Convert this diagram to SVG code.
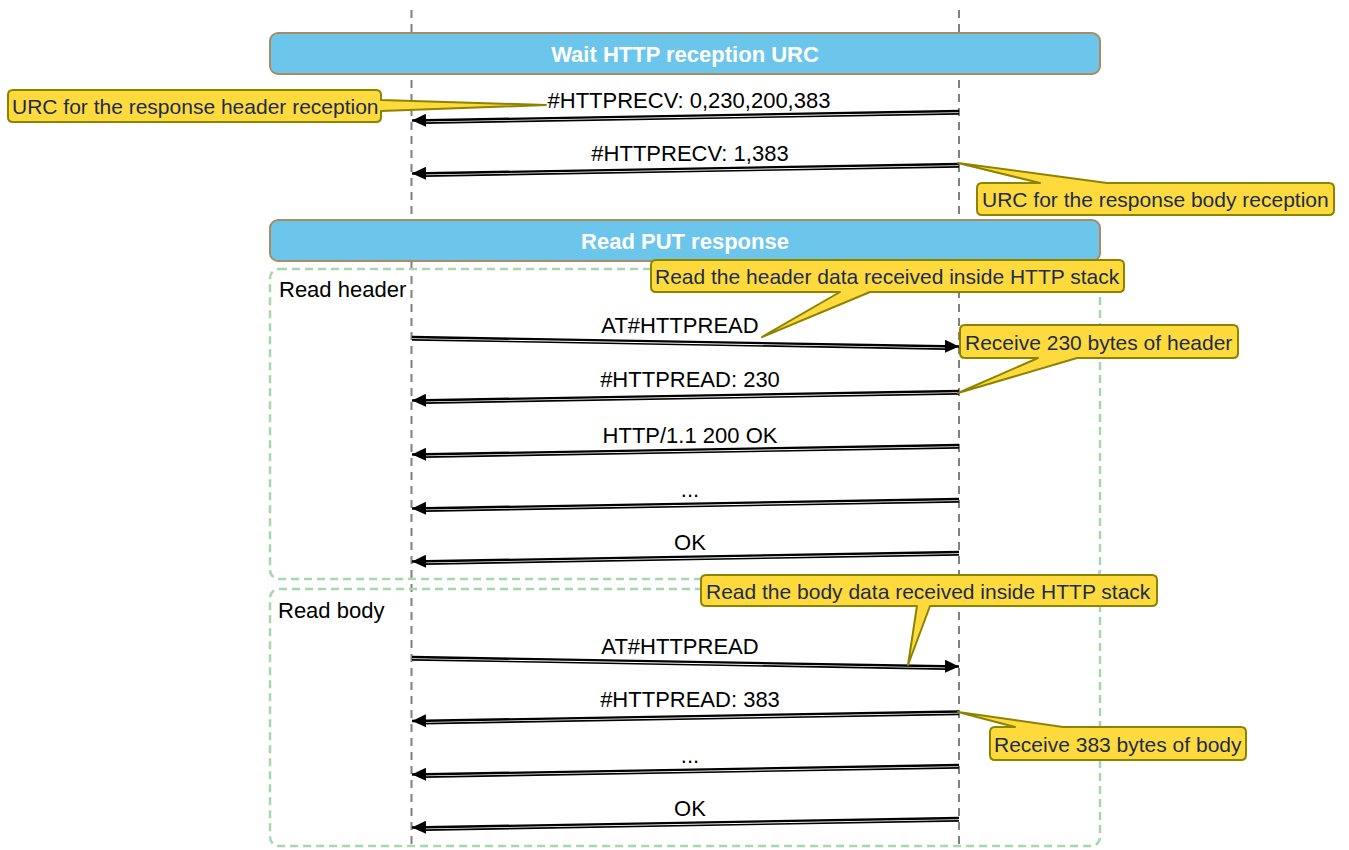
<svg xmlns="http://www.w3.org/2000/svg" width="1349" height="850" viewBox="0 0 1349 850">
  <defs>
    <style>
      .lifeline { stroke: #808080; stroke-width: 2; stroke-dasharray: 8 6; fill: none; }
      .phase { fill: #6cc6ec; stroke: #aa8c62; stroke-width: 2; }
      .phase-label { font-family: "Liberation Sans", Arial, sans-serif; font-size: 22px; font-weight: bold; fill: #ffffff; text-anchor: middle; }
      .frame { fill: none; stroke: #a6d8ae; stroke-width: 2.5; stroke-dasharray: 8 5; }
      .frame-label { font-family: "Liberation Sans", Arial, sans-serif; font-size: 22px; fill: #000000; }
      .msg path.a { stroke: #000; stroke-width: 2.4; fill: none; }
      .msg path.b { stroke: #000; stroke-width: 1.7; fill: none; }
      .msg-label { font-family: "Liberation Sans", Arial, sans-serif; font-size: 22px; fill: #000000; text-anchor: middle; }
      .note path { fill: #ffda3c; stroke: #8c8300; stroke-width: 2; stroke-linejoin: round; }
      .note text { font-family: "Liberation Sans", Arial, sans-serif; font-size: 21px; fill: #1b2c4e; }
    </style>
    <marker id="arrow" viewBox="0 0 14 13" refX="14" refY="6.5" markerWidth="14" markerHeight="13" markerUnits="userSpaceOnUse" orient="auto">
      <path d="M0,0 L14,6.5 L0,13 z" fill="#000"/>
    </marker>
  </defs>

  <rect x="0" y="0" width="1349" height="850" fill="#ffffff"/>

  <!-- lifelines -->
  <g id="lifelines">
    <line class="lifeline" x1="411.5" y1="10" x2="411.5" y2="850"/>
    <line class="lifeline" x1="959" y1="10" x2="959" y2="850"/>
  </g>

  <!-- phase banners -->
  <g id="phase-wait">
    <rect class="phase" x="270" y="33" width="830" height="41" rx="8"/>
    <text class="phase-label" x="685" y="61.5">Wait HTTP reception URC</text>
  </g>
  <g id="phase-read">
    <rect class="phase" x="270" y="220" width="830" height="41" rx="8"/>
    <text class="phase-label" x="685" y="248.5">Read PUT response</text>
  </g>

  <!-- fragments -->
  <g id="frame-header">
    <rect class="frame" x="270" y="269" width="830" height="310" rx="9"/>
    <text class="frame-label" x="279" y="297">Read header</text>
  </g>
  <g id="frame-body">
    <rect class="frame" x="270" y="589" width="830" height="257" rx="9"/>
    <text class="frame-label" x="278" y="618">Read body</text>
  </g>

  <!-- messages -->
  <g id="connectors">
    <g class="msg" id="m1">
      <path class="a" d="M959,111 L412,120.5" marker-end="url(#arrow)"/>
      <path class="b" d="M959,113.8 L424,123.2"/>
      <text class="msg-label" x="689" y="108">#HTTPRECV: 0,230,200,383</text>
    </g>
    <g class="msg" id="m2">
      <path class="a" d="M959,164 L412,173.5" marker-end="url(#arrow)"/>
      <path class="b" d="M959,166.8 L424,176.2"/>
      <text class="msg-label" x="690" y="161">#HTTPRECV: 1,383</text>
    </g>
    <g class="msg" id="m3">
      <path class="a" d="M412,337 L959,346.5" marker-end="url(#arrow)"/>
      <path class="b" d="M412,339.8 L947,349.2"/>
      <text class="msg-label" x="680" y="333">AT#HTTPREAD</text>
    </g>
    <g class="msg" id="m4">
      <path class="a" d="M959,391 L412,400.5" marker-end="url(#arrow)"/>
      <path class="b" d="M959,393.8 L424,403.2"/>
      <text class="msg-label" x="690" y="387">#HTTPREAD: 230</text>
    </g>
    <g class="msg" id="m5">
      <path class="a" d="M959,445 L412,454.5" marker-end="url(#arrow)"/>
      <path class="b" d="M959,447.8 L424,457.2"/>
      <text class="msg-label" x="690" y="443">HTTP/1.1 200 OK</text>
    </g>
    <g class="msg" id="m6">
      <path class="a" d="M959,499 L412,508.5" marker-end="url(#arrow)"/>
      <path class="b" d="M959,501.8 L424,511.2"/>
      <text class="msg-label" x="690" y="497">...</text>
    </g>
    <g class="msg" id="m7">
      <path class="a" d="M959,552 L412,561.5" marker-end="url(#arrow)"/>
      <path class="b" d="M959,554.8 L424,564.2"/>
      <text class="msg-label" x="690" y="550">OK</text>
    </g>
    <g class="msg" id="m8">
      <path class="a" d="M412,657 L959,666.5" marker-end="url(#arrow)"/>
      <path class="b" d="M412,659.8 L947,669.2"/>
      <text class="msg-label" x="680" y="654">AT#HTTPREAD</text>
    </g>
    <g class="msg" id="m9">
      <path class="a" d="M959,711.5 L412,721" marker-end="url(#arrow)"/>
      <path class="b" d="M959,714.3 L424,723.7"/>
      <text class="msg-label" x="690" y="707">#HTTPREAD: 383</text>
    </g>
    <g class="msg" id="m10">
      <path class="a" d="M959,765 L412,774.5" marker-end="url(#arrow)"/>
      <path class="b" d="M959,767.8 L424,777.2"/>
      <text class="msg-label" x="690" y="763">...</text>
    </g>
    <g class="msg" id="m11">
      <path class="a" d="M959,818 L412,827.5" marker-end="url(#arrow)"/>
      <path class="b" d="M959,820.8 L424,830.2"/>
      <text class="msg-label" x="690" y="816">OK</text>
    </g>
  </g>

  <!-- callout notes -->
  <g class="note" id="note-header-urc">
    <path d="M13,90 H376 Q381,90 381,95 V100 L546,105 L381,111 V117 Q381,122 376,122 H13 Q8,122 8,117 V95 Q8,90 13,90 Z"/>
    <text x="12" y="113.5">URC for the response header reception</text>
  </g>
  <g class="note" id="note-body-urc">
    <path d="M982,183 H1040 L958,163 L1107,183 H1329 Q1334,183 1334,188 V210 Q1334,215 1329,215 H982 Q977,215 977,210 V188 Q977,183 982,183 Z"/>
    <text x="982" y="206.5">URC for the response body reception</text>
  </g>
  <g class="note" id="note-read-header">
    <path d="M656,260 H1119 Q1124,260 1124,265 V287 Q1124,292 1119,292 H870 L762,337 L840,292 H656 Q651,292 651,287 V265 Q651,260 656,260 Z"/>
    <text x="655" y="283.5">Read the header data received inside HTTP stack</text>
  </g>
  <g class="note" id="note-230">
    <path d="M965,325 H1233 Q1238,325 1238,330 V353 Q1238,358 1233,358 H1077 L958,393 L1038,358 H965 Q960,358 960,353 V330 Q960,325 965,325 Z"/>
    <text x="965" y="349.5">Receive 230 bytes of header</text>
  </g>
  <g class="note" id="note-read-body">
    <path d="M706,575 H1152 Q1157,575 1157,580 V601 Q1157,606 1152,606 H930 L908,665 L917,606 H706 Q701,606 701,601 V580 Q701,575 706,575 Z"/>
    <text x="706" y="598.5">Read the body data received inside HTTP stack</text>
  </g>
  <g class="note" id="note-383">
    <path d="M995,727 H1015 L958,712 L1063,727 H1241 Q1246,727 1246,732 V755 Q1246,760 1241,760 H995 Q990,760 990,755 V732 Q990,727 995,727 Z"/>
    <text x="994" y="751.5">Receive 383 bytes of body</text>
  </g>
</svg>
